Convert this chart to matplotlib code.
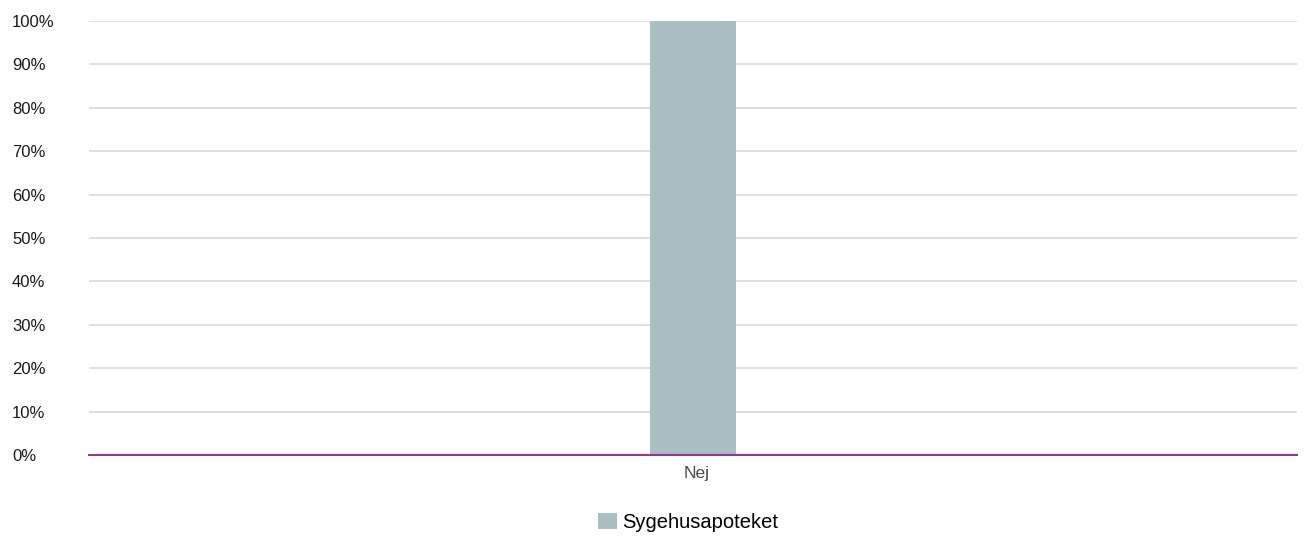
import matplotlib.pyplot as plt
import matplotlib.ticker as ticker
import matplotlib.transforms as mtransforms

plt.rcParams["font.family"] = ["Liberation Sans", "DejaVu Sans"]

categories = ["Nej"]
values = [100]
series_name = "Sygehusapoteket"

fig = plt.figure(figsize=(13.11, 5.37), dpi=100)
ax = fig.add_axes([0.0679, 0.1527, 0.9214, 0.8082])

ax.bar(categories, values, width=0.072, color="#a9bfc1", label=series_name, zorder=2)

ax.set_xlim(-0.5, 0.5)
ax.set_ylim(0, 100)
ax.yaxis.set_major_locator(ticker.MultipleLocator(10))
ax.yaxis.set_major_formatter(ticker.FuncFormatter(lambda v, p: "%d%%" % v))
ax.grid(axis="y", color="#d9d9d9", linewidth=1.2, zorder=0)
ax.set_axisbelow(True)

for s in ["top", "right", "left"]:
    ax.spines[s].set_visible(False)
ax.spines["bottom"].set_color("#8b3a8f")
ax.spines["bottom"].set_linewidth(1.5)
ax.spines["bottom"].set_zorder(3)

ax.tick_params(axis="y", length=0, pad=55.5, labelsize=12, labelcolor="#1a1a1a")
for lbl in ax.get_yticklabels():
    lbl.set_horizontalalignment("left")
ax.tick_params(axis="x", length=0, pad=8, labelsize=12.5, labelcolor="#4a4a4a")
# category label sits a few pixels right of the bar centre in the original
shift = mtransforms.ScaledTranslation(4 / 100, 0, fig.dpi_scale_trans)
for lbl in ax.get_xticklabels():
    lbl.set_transform(lbl.get_transform() + shift)

ax.legend(loc="center", bbox_to_anchor=(0.4963, -0.155), frameon=False,
          fontsize=14.5, handlelength=0.9, handleheight=0.9, handletextpad=0.3)

fig.savefig("out.png", dpi=100)
